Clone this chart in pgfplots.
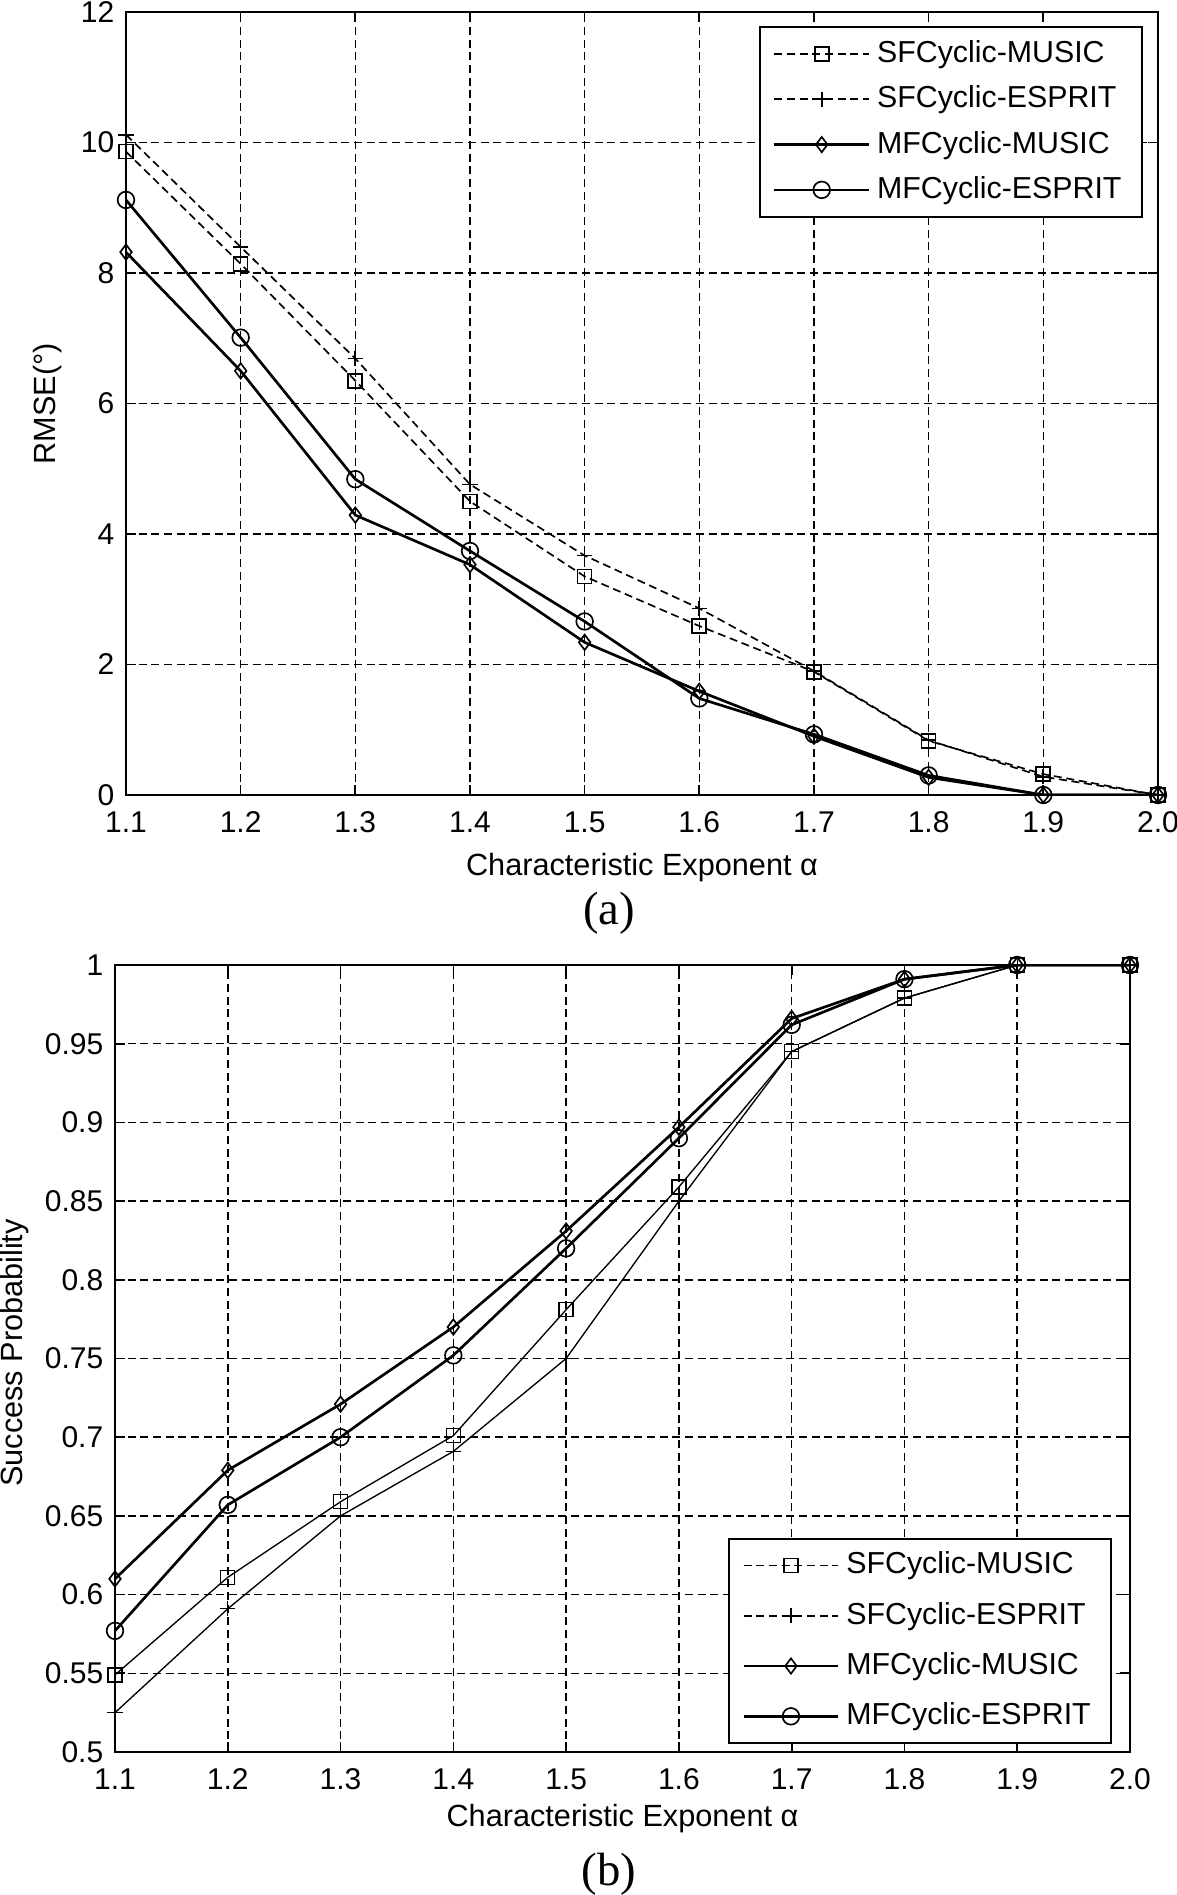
\documentclass[border=0pt]{standalone}
\usepackage{fontspec}
\setmainfont{Liberation Sans}
\newfontfamily\timesfont{Liberation Serif}
\usepackage{pgfplots}
\pgfplotsset{compat=1.18}

\pgfplotstableread{
x    sfm   sfe   mfm   mfe
1.1  9.86  10.12 8.32  9.12
1.2  8.14  8.40  6.50  7.01
1.3  6.35  6.69  4.29  4.84
1.4  4.50  4.76  3.53  3.74
1.5  3.35  3.67  2.34  2.66
1.6  2.59  2.86  1.59  1.48
1.7  1.89  1.90  0.90  0.93
1.8  0.83  0.84  0.27  0.30
1.9  0.32  0.28  0.00  0.00
2.0  0.00  0.00  0.00  0.00
}\rmsetab

\pgfplotstableread{
x    sfm   sfe   mfm   mfe
1.1  0.549 0.525 0.610 0.577
1.2  0.611 0.591 0.679 0.657
1.3  0.659 0.650 0.721 0.700
1.4  0.701 0.691 0.770 0.752
1.5  0.781 0.750 0.831 0.820
1.6  0.859 0.850 0.897 0.890
1.7  0.945 0.945 0.966 0.962
1.8  0.979 0.979 0.991 0.991
1.9  1.000 1.000 1.000 1.000
2.0  1.000 1.000 1.000 1.000
}\probtab

\pgfplotsset{
  mystyle/.style={
    scale only axis,
    xmin=1.1, xmax=2.0,
    xtick={1.1,1.2,1.3,1.4,1.5,1.6,1.7,1.8,1.9,2.0},
    xticklabels={1.1,1.2,1.3,1.4,1.5,1.6,1.7,1.8,1.9,2.0},
    grid=major,
    major grid style={black, line width=0.45pt, dash pattern=on 2.4pt off 1.4pt},
    tick align=inside,
    major tick length=3pt,
    tick style={black, line width=0.5pt},
    axis line style={black, line width=0.8pt},
    tick label style={font=\fontsize{9}{10}\selectfont},
    /pgf/number format/assume math mode=true,
    xticklabel style={yshift=-1.5pt},
    label style={font=\fontsize{9.2}{10}\selectfont},
    legend cell align=left,
    legend style={font=\fontsize{9.1}{10}\selectfont, draw=black, line width=0.6pt, inner xsep=4pt, inner ysep=2pt},
    legend image code/.code={\draw[mark repeat=2,mark phase=2,#1] plot coordinates {(0cm,0cm) (0.5cm,0cm) (1cm,0cm)};},
  },
  sfdash/.style={black, line width=0.5pt, dash pattern=on 2.4pt off 1.4pt},
  mfsolid/.style={black, line width=0.8pt},
}

\begin{document}
\begin{tikzpicture}
\useasboundingbox (0,0) rectangle (353.1pt,-568.5pt);

% ---------- (a) ----------
\begin{axis}[mystyle,
  at={(37.8pt,-238.5pt)}, anchor=south west,
  width=309.6pt, height=234.9pt,
  ymin=0, ymax=12,
  ytick={0,2,4,6,8,10,12},
  yticklabels={0,2,4,6,8,10,12},
  xlabel={Characteristic Exponent α},
  ylabel={RMSE(°)},
  xlabel style={at={(axis description cs:0.5,-0.093)}, anchor=center},
  ylabel style={at={(axis description cs:-0.076,0.5)}, anchor=center, rotate=0},
  legend style={at={(axis description cs:0.985,0.982)}, anchor=north east, row sep=1.5pt},
]
\addplot[sfdash, mark=square, mark size=2.1pt, mark options={solid, line width=0.5pt}] table[x=x,y=sfm] {\rmsetab};
\addlegendentry{SFCyclic-MUSIC}
\addplot[sfdash, mark=+, mark size=2.3pt, mark options={solid, line width=0.5pt}] table[x=x,y=sfe] {\rmsetab};
\addlegendentry{SFCyclic-ESPRIT}
\addplot[mfsolid, mark=diamond, mark size=2.3pt, mark options={solid, line width=0.5pt}] table[x=x,y=mfm] {\rmsetab};
\addlegendentry{MFCyclic-MUSIC}
\addplot[mfsolid, mark=o, mark size=2.5pt, mark options={solid, line width=0.5pt}] table[x=x,y=mfe] {\rmsetab};
\addlegendentry{MFCyclic-ESPRIT}
\end{axis}

\node[font=\timesfont\fontsize{14}{15}\selectfont] at (182.7pt,-273.9pt) {(a)};

% ---------- (b) ----------
\begin{axis}[mystyle,
  at={(34.5pt,-525.6pt)}, anchor=south west,
  width=304.5pt, height=236.1pt,
  ymin=0.5, ymax=1,
  ytick={0.5,0.55,0.6,0.65,0.7,0.75,0.8,0.85,0.9,0.95,1},
  yticklabels={0.5,0.55,0.6,0.65,0.7,0.75,0.8,0.85,0.9,0.95,1},
  xlabel={Characteristic Exponent α},
  ylabel={Success Probability},
  xlabel style={at={(axis description cs:0.5,-0.085)}, anchor=center},
  ylabel style={at={(axis description cs:-0.099,0.507)}, anchor=center, rotate=0},
  legend style={at={(axis description cs:0.982,0.01)}, anchor=south east, row sep=3pt},
]
\addlegendimage{sfdash, mark=square, mark size=2.1pt, mark options={solid, line width=0.5pt}}
\addlegendentry{SFCyclic-MUSIC}
\addlegendimage{sfdash, mark=+, mark size=2.3pt, mark options={solid, line width=0.5pt}}
\addlegendentry{SFCyclic-ESPRIT}
\addlegendimage{mfsolid, mark=diamond, mark size=2.3pt, mark options={solid, line width=0.5pt}}
\addlegendentry{MFCyclic-MUSIC}
\addlegendimage{mfsolid, mark=o, mark size=2.5pt, mark options={solid, line width=0.5pt}}
\addlegendentry{MFCyclic-ESPRIT}
\addplot[black, line width=0.4pt, mark=square, mark size=2.1pt, forget plot] table[x=x,y=sfm] {\probtab};
\addplot[black, line width=0.4pt, mark=+, mark size=2.3pt, forget plot] table[x=x,y=sfe] {\probtab};
\addplot[mfsolid, mark=diamond, mark size=2.3pt, mark options={line width=0.5pt}, forget plot] table[x=x,y=mfm] {\probtab};
\addplot[mfsolid, mark=o, mark size=2.5pt, mark options={line width=0.5pt}, forget plot] table[x=x,y=mfe] {\probtab};
\end{axis}

\node[font=\timesfont\fontsize{14}{15}\selectfont] at (182.7pt,-562.2pt) {(b)};
\end{tikzpicture}
\end{document}
